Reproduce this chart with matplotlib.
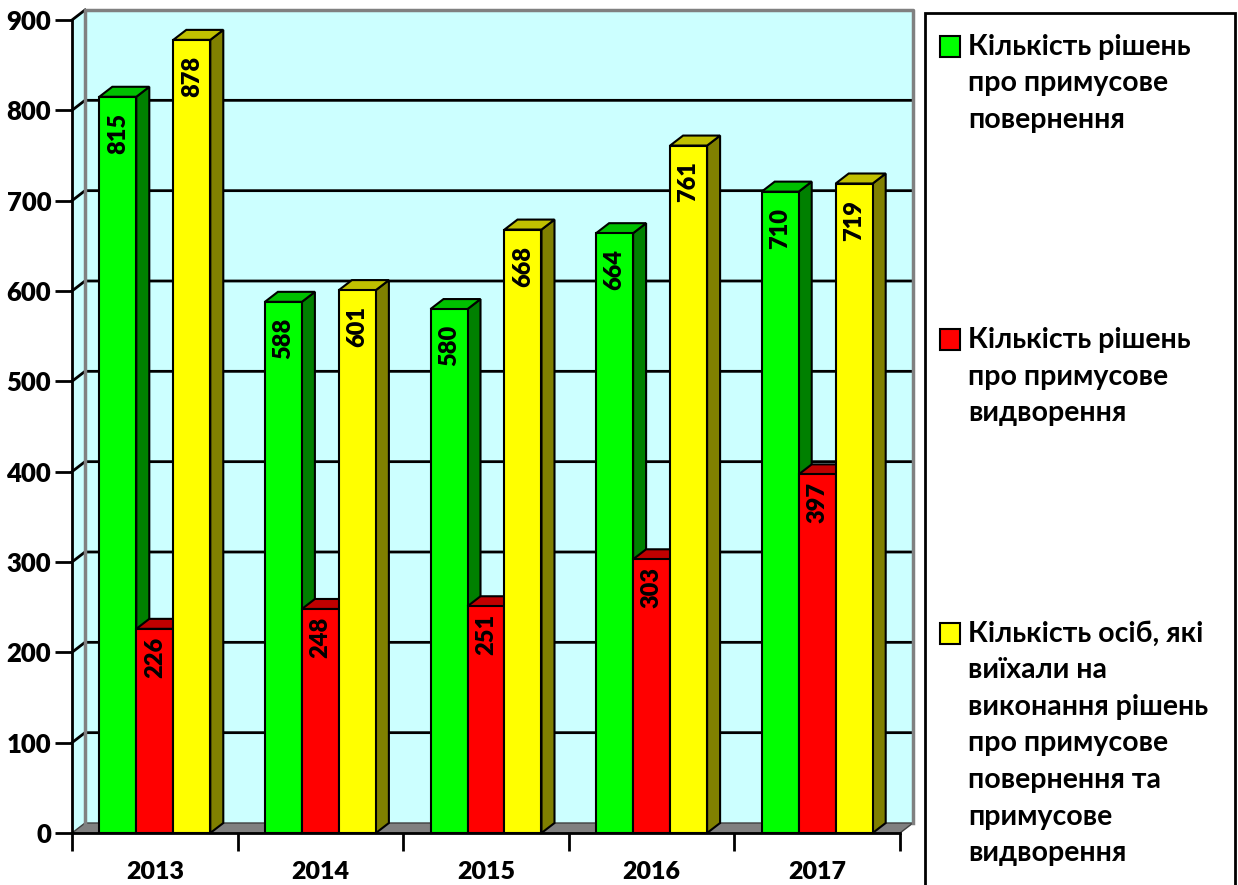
import matplotlib.pyplot as plt
from matplotlib.patches import Polygon, Rectangle

plt.rcParams['font.family'] = ['Lato', 'DejaVu Sans']
plt.rcParams['font.weight'] = 'bold'

years = ['2013', '2014', '2015', '2016', '2017']
returns = [815, 588, 580, 664, 710]
expulsions = [226, 248, 251, 303, 397]
departed = [878, 601, 668, 761, 719]
series_names = [
    'Кількість рішень\nпро примусове\nповернення',
    'Кількість рішень\nпро примусове\nвидворення',
    'Кількість осіб, які\nвиїхали на\nвиконання рішень\nпро примусове\nповернення та\nпримусове\nвидворення',
]

# front / side / top shades for each series
shades = [
    ('#00FF00', '#008000', '#00C000'),
    ('#FF0000', '#800000', '#C00000'),
    ('#FFFF00', '#808000', '#C0C000'),
]
label_pad = [16, 8, 16]
num_weight = 'heavy'

W, H = 1238, 885
fig = plt.figure(figsize=(W / 100, H / 100), dpi=100)
ax = fig.add_axes([72 / W, (H - 833) / H, 828 / W, 813 / H])
ax.set_xlim(0, len(years))
ax.set_ylim(0, 900)
ax.patch.set_visible(False)

# depth offset of the 3d box, in data units
dx = 13 / (828 / len(years))
dy = 10 / (813 / 900)
n = len(years)
ymax = 900

wall = '#CCFFFF'
ax.add_patch(Polygon([(dx, dy), (n + dx, dy), (n + dx, ymax + dy), (dx, ymax + dy)],
                     closed=True, fc=wall, ec='none', zorder=0, clip_on=False))
ax.add_patch(Polygon([(0, 0), (dx, dy), (dx, ymax + dy), (0, ymax)],
                     closed=True, fc=wall, ec='none', zorder=0, clip_on=False))
ax.add_patch(Polygon([(0, 0), (n, 0), (n + dx, dy), (dx, dy)],
                     closed=True, fc='#808080', ec='#404040', lw=1, zorder=1, clip_on=False))

for v in range(100, 900, 100):
    ax.plot([0, dx, n + dx], [v, v + dy, v + dy], color='black', lw=2, zorder=1, clip_on=False)
ax.plot([0, dx], [ymax, ymax + dy], color='black', lw=2, zorder=1, clip_on=False)
ax.plot([dx, dx, n + dx, n + dx], [dy, ymax + dy, ymax + dy, dy],
        color='#808080', lw=2.5, zorder=1, clip_on=False)

bar_w = 0.2234
start = (1 - 3 * bar_w) / 2
for k, values in enumerate([returns, expulsions, departed]):
    front, side, top = shades[k]
    for i, v in enumerate(values):
        x0 = i + start + k * bar_w
        x1 = x0 + bar_w
        z = 3 + i * 3 + k
        ax.add_patch(Polygon([(x1, 0), (x1 + dx, dy), (x1 + dx, v + dy), (x1, v)],
                             closed=True, fc=side, ec='black', lw=1.5, zorder=z, clip_on=False))
        ax.add_patch(Polygon([(x0, v), (x0 + dx, v + dy), (x1 + dx, v + dy), (x1, v)],
                             closed=True, fc=top, ec='black', lw=1.5, zorder=z, clip_on=False))
        ax.add_patch(Rectangle((x0, 0), bar_w, v, fc=front, ec='black', lw=1.5,
                               zorder=z + 0.5, clip_on=False))
        ax.annotate(str(v), (x0 + bar_w / 2, v), xytext=(0, -label_pad[k] * 0.72),
                    textcoords='offset points', rotation=90, ha='center', va='top',
                    fontsize=17, fontweight=num_weight, zorder=30)

for s in ['top', 'right']:
    ax.spines[s].set_visible(False)
ax.spines['left'].set_linewidth(2)
ax.spines['bottom'].set_linewidth(2)
ax.spines['bottom'].set_zorder(20)
ax.set_yticks(range(0, 901, 100))
ax.set_yticklabels([str(v) for v in range(0, 901, 100)], fontsize=18.5, fontweight=num_weight)
ax.set_xticks(range(0, n + 1))
ax.set_xticklabels([])
ax.set_xticks([i + 0.5 for i in range(n)], minor=True)
ax.set_xticklabels(years, minor=True, fontsize=18, fontweight=num_weight)
ax.tick_params(axis='x', which='major', direction='out', length=13, width=2)
ax.tick_params(axis='x', which='minor', length=0, pad=20)
ax.tick_params(axis='y', direction='out', length=12, width=2, pad=3)

# legend box on the right
fig.patches.append(Rectangle((925 / W, -0.01), 310 / W, (H - 13) / H + 0.01,
                             transform=fig.transFigure, fc='white', ec='black', lw=2))
entry_top = [36, 329, 623]
for k, name in enumerate(series_names):
    y = entry_top[k]
    fig.patches.append(Rectangle((940 / W, (H - y - 21) / H), 20 / W, 21 / H,
                                 transform=fig.transFigure, fc=shades[k][0],
                                 ec='black', lw=1.5))
    fig.text(968 / W, (H - y + 2) / H, name, ha='left', va='top', fontsize=20.5,
             fontweight='bold', linespacing=1.5)

fig.savefig('out.png', dpi=100)
